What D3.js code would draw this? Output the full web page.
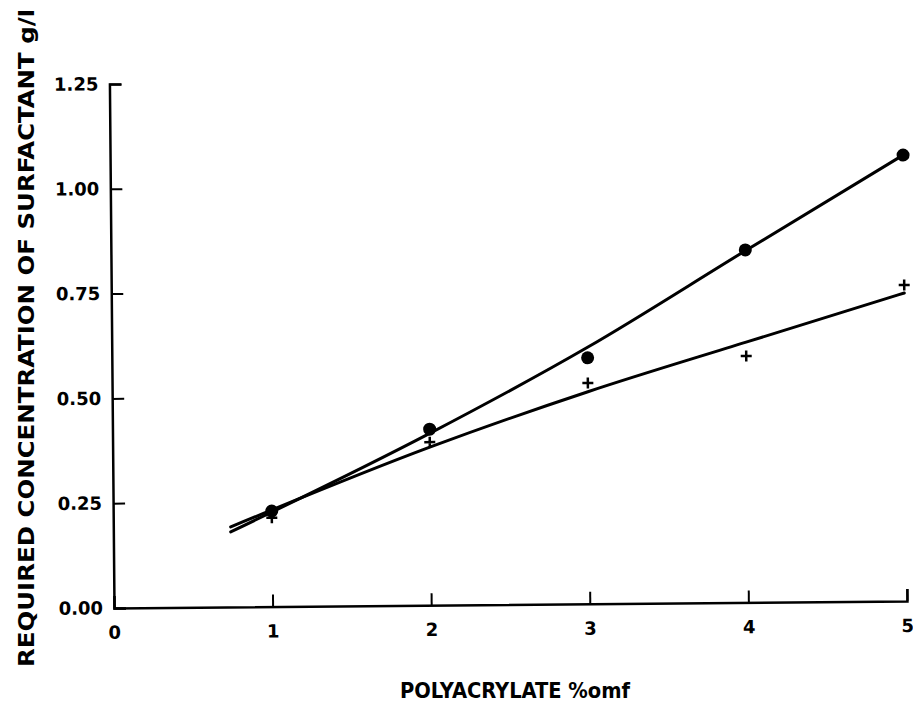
<!DOCTYPE html>
<html>
<head>
<meta charset="utf-8">
<script src="https://cdn.jsdelivr.net/npm/d3@7"></script>
<style>
    body { margin: 0; background: #fff; }
    .tick text { font-family: "DejaVu Sans", sans-serif; font-weight: bold; font-size: 18px; fill: #000; }
    .title { font-family: "Liberation Sans Narrow", "DejaVu Sans Condensed", "Liberation Sans", sans-serif; font-weight: bold; font-size: 22px; fill: #000; }
</style>
</head>
<body>
<script>
// values
const xTicks = [0, 1, 2, 3, 4, 5];
const yTicks = [0, 0.25, 0.5, 0.75, 1.0, 1.25];

const circlePoints = [[1, 0.228], [2, 0.42], [3, 0.587], [4, 0.841], [5, 1.064]];
const crossPoints = [[1, 0.212], [2, 0.389], [3, 0.527], [4, 0.588], [5, 0.754]];

// drawn fit lines
const circleLine = [[0.74, 0.179], [2, 0.41], [3, 0.612], [4, 0.839], [5, 1.064]];
const crossLine = [[0.74, 0.191], [2, 0.377], [3, 0.506], [4, 0.621], [5, 0.735]];

const xLabel = "POLYACRYLATE %omf";
const yLabel = "REQUIRED CONCENTRATION OF SURFACTANT g/l";

let svg = d3.select("body")
    .append("svg")
    .attr("width", 913)
    .attr("height", 702);

let x = d3.scaleLinear().domain([0, 5]).range([0, 793]);
let y = d3.scaleLinear().domain([0, 1.25]).range([0, -524]);

// the scan is tilted a bit
let g = svg.append("g")
    .attr("transform", "translate(114,608) rotate(-0.5)");

g.append("g")
    .call(d3.axisBottom(x)
        .tickValues(xTicks)
        .tickFormat(d3.format("d"))
        .tickSizeInner(-12)
        .tickSizeOuter(-12)
        .tickPadding(18));

g.append("g")
    .call(d3.axisLeft(y)
        .tickValues(yTicks)
        .tickFormat(d3.format(".2f"))
        .tickSizeInner(-12)
        .tickSizeOuter(-12)
        .tickPadding(11));

g.selectAll(".domain")
    .attr("stroke", "#000")
    .attr("stroke-width", 2.5);
g.selectAll(".tick line")
    .attr("stroke", "#000")
    .attr("stroke-width", 2);

let line = d3.line()
    .x(d => x(d[0]))
    .y(d => y(d[1]))
    .curve(d3.curveMonotoneX);

[circleLine, crossLine].forEach(pts => {
    g.append("path")
        .attr("d", line(pts))
        .attr("fill", "none")
        .attr("stroke", "#000")
        .attr("stroke-width", 3)
        .attr("stroke-linecap", "round");
});

g.selectAll("circle.pt")
    .data(circlePoints)
    .enter()
    .append("circle")
    .attr("class", "pt")
    .attr("cx", d => x(d[0]))
    .attr("cy", d => y(d[1]))
    .attr("r", 6.5)
    .attr("fill", "#000");

g.selectAll("path.cross")
    .data(crossPoints)
    .enter()
    .append("path")
    .attr("class", "cross")
    .attr("d", d => {
        let cx = x(d[0]), cy = y(d[1]);
        return "M" + (cx - 5.5) + "," + cy + "H" + (cx + 5.5) + "M" + cx + "," + (cy - 5.5) + "V" + (cy + 5.5);
    })
    .attr("stroke", "#000")
    .attr("stroke-width", 2.5);

svg.append("text")
    .attr("class", "title")
    .attr("x", 515)
    .attr("y", 698)
    .attr("text-anchor", "middle")
    .attr("textLength", 230)
    .attr("lengthAdjust", "spacingAndGlyphs")
    .text(xLabel);

svg.append("text")
    .attr("class", "title")
    .attr("transform", "translate(34,338) rotate(-90)")
    .attr("text-anchor", "middle")
    .attr("textLength", 658)
    .attr("lengthAdjust", "spacingAndGlyphs")
    .style("font-size", "21px")
    .text(yLabel);
</script>
</body>
</html>
